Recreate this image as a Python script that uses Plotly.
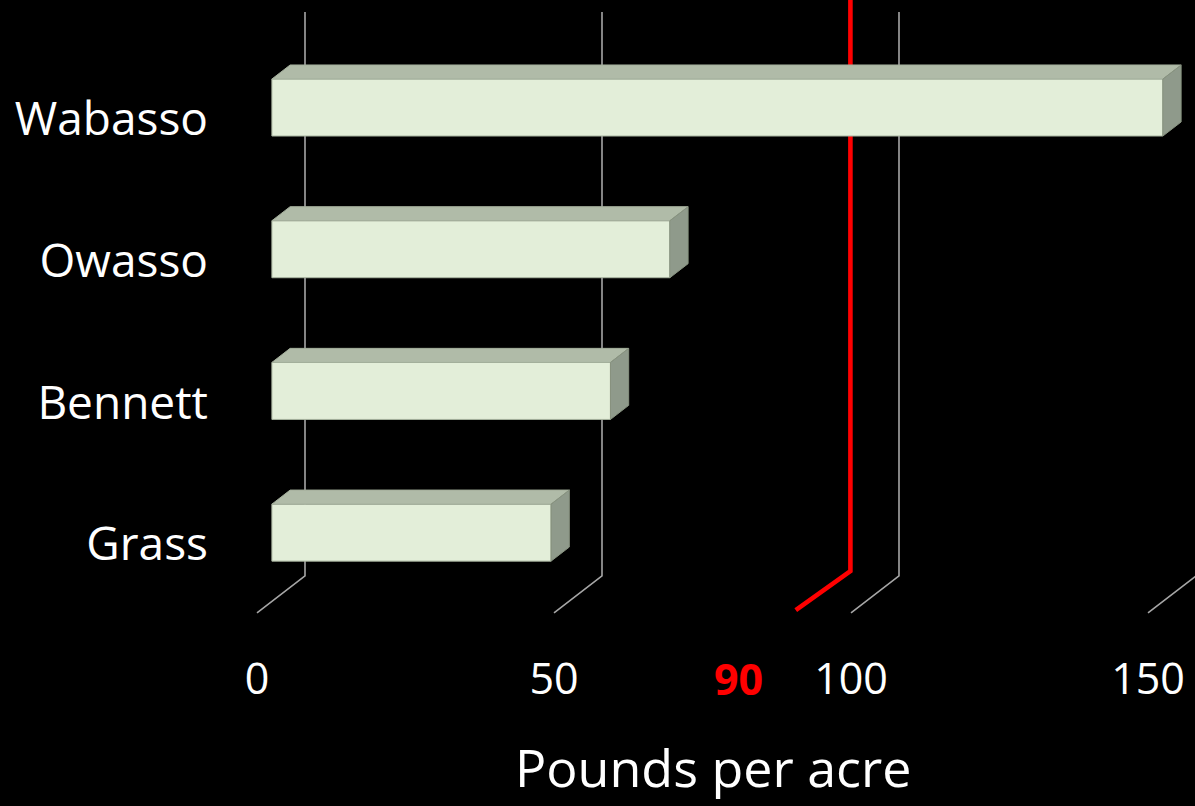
import plotly.graph_objects as go

# ---------------- data ----------------
categories = ["Grass", "Bennett", "Owasso", "Wabasso"]
values = [47, 57, 67, 150]
tick_values = [0, 50, 100, 150]
tick_labels = ["0", "50", "100", "150"]
target = 90
target_label = "90"
x_title = "Pounds per acre"

# ---------------- pseudo-3D projection settings ----------------
W, H = 1195, 806
PLOT_L, PLOT_R, PLOT_T, PLOT_B = 215, 1195, 0, 620   # plot area in pixels
ZERO_PX = 257          # pixel of value 0 on the front floor edge
PX_PER_UNIT = 5.94     # pixels per pound
TOP_CAT_PX = 119       # pixel row of top category (front plane)
PX_PER_CAT = 141.7     # pixels between categories
DEPTH_DX = 48 / PX_PER_UNIT   # full depth, value units
DEPTH_DY = 37 / PX_PER_CAT    # full depth, category units
FRONT_D, BACK_D = 0.31, 0.69  # bar depth slab
BAR_H = 57 / PX_PER_CAT
FLOOR_C = -0.486
WALL_TOP_C = 3.755

n = len(categories)
pos = list(range(n))

x_range = [(PLOT_L - ZERO_PX) / PX_PER_UNIT, (PLOT_R - ZERO_PX) / PX_PER_UNIT]
y_range = [(n - 1) - (PLOT_B - TOP_CAT_PX) / PX_PER_CAT,
           (n - 1) + (TOP_CAT_PX - PLOT_T) / PX_PER_CAT]

fig = go.Figure()

x_off = FRONT_D * DEPTH_DX
y_off = FRONT_D * DEPTH_DY
dd = BACK_D - FRONT_D

# front faces
fig.add_trace(go.Bar(
    y=[p + y_off for p in pos], x=values, base=x_off,
    orientation="h", width=BAR_H,
    marker=dict(color="#e3eed9", line=dict(color="#a7b39e", width=1)),
    hoverinfo="skip", showlegend=False,
))

# top and side faces
top_x, top_y, side_x, side_y = [], [], [], []
for p, v in zip(pos, values):
    x0 = x_off
    x1 = x_off + v
    yt = p + y_off + BAR_H / 2
    yb = p + y_off - BAR_H / 2
    ddx, ddy = dd * DEPTH_DX, dd * DEPTH_DY
    top_x += [x0, x1, x1 + ddx, x0 + ddx, x0, None]
    top_y += [yt, yt, yt + ddy, yt + ddy, yt, None]
    side_x += [x1, x1, x1 + ddx, x1 + ddx, x1, None]
    side_y += [yb, yt, yt + ddy, yb + ddy, yb, None]

fig.add_trace(go.Scatter(x=top_x, y=top_y, fill="toself", mode="lines",
                         fillcolor="#b0bba8", line=dict(color="#a3ae9b", width=1),
                         hoverinfo="skip", showlegend=False))
fig.add_trace(go.Scatter(x=side_x, y=side_y, fill="toself", mode="lines",
                         fillcolor="#8f9a8b", line=dict(color="#87927f", width=1),
                         hoverinfo="skip", showlegend=False))

# gridlines: floor diagonal + back wall vertical
shapes = []
for v in tick_values:
    path = (f"M {v},{FLOOR_C} L {v + DEPTH_DX},{FLOOR_C + DEPTH_DY} "
            f"L {v + DEPTH_DX},{WALL_TOP_C}")
    shapes.append(dict(type="path", path=path, xref="x", yref="y", layer="below",
                       line=dict(color="#a6a6a6", width=1.6)))

# target line
tx0, ty0 = target + 0.7, FLOOR_C + 0.02
tx1, ty1 = target + 9.9, FLOOR_C + 0.296
shapes.append(dict(type="path",
                   path=f"M {tx0},{ty0} L {tx1},{ty1} L {tx1},{y_range[1]}",
                   xref="x", yref="y", layer="below",
                   line=dict(color="#ff0000", width=4.6)))

font_family = "Open Sans, Liberation Sans, sans-serif"

fig.update_layout(
    width=W, height=H,
    margin=dict(l=PLOT_L, r=W - PLOT_R, t=PLOT_T, b=H - PLOT_B),
    paper_bgcolor="#000000", plot_bgcolor="#000000",
    shapes=shapes,
    showlegend=False,
    font=dict(family=font_family, color="#ffffff"),
    xaxis=dict(range=x_range, showgrid=False, zeroline=False, showline=False,
               ticks="", tickvals=tick_values, ticktext=tick_labels,
               tickfont=dict(size=43, color="#ffffff"), ticklabelstandoff=30,
               automargin=False, fixedrange=True),
    yaxis=dict(range=y_range, showgrid=False, zeroline=False, showline=False,
               ticks="", tickvals=pos, ticktext=categories,
               tickfont=dict(size=46, color="#ffffff"), ticklabelstandoff=6,
               automargin=False, fixedrange=True),
    annotations=[
        dict(x=target - 9, y=-0.044, xref="x", yref="paper",
             text=f"<b>{target_label}</b>", showarrow=False,
             xanchor="center", yanchor="top",
             font=dict(size=43, color="#ff0000", family=font_family)),
        dict(x=(713 - PLOT_L) / (PLOT_R - PLOT_L), y=-0.236, xref="paper", yref="paper",
             text=x_title, showarrow=False, xanchor="center", yanchor="middle",
             font=dict(size=52, color="#ffffff", family=font_family)),
    ],
)

fig.write_html("out.html", config={"displayModeBar": False},
               post_script="document.body.style.margin='0';document.body.style.background='#000';")
